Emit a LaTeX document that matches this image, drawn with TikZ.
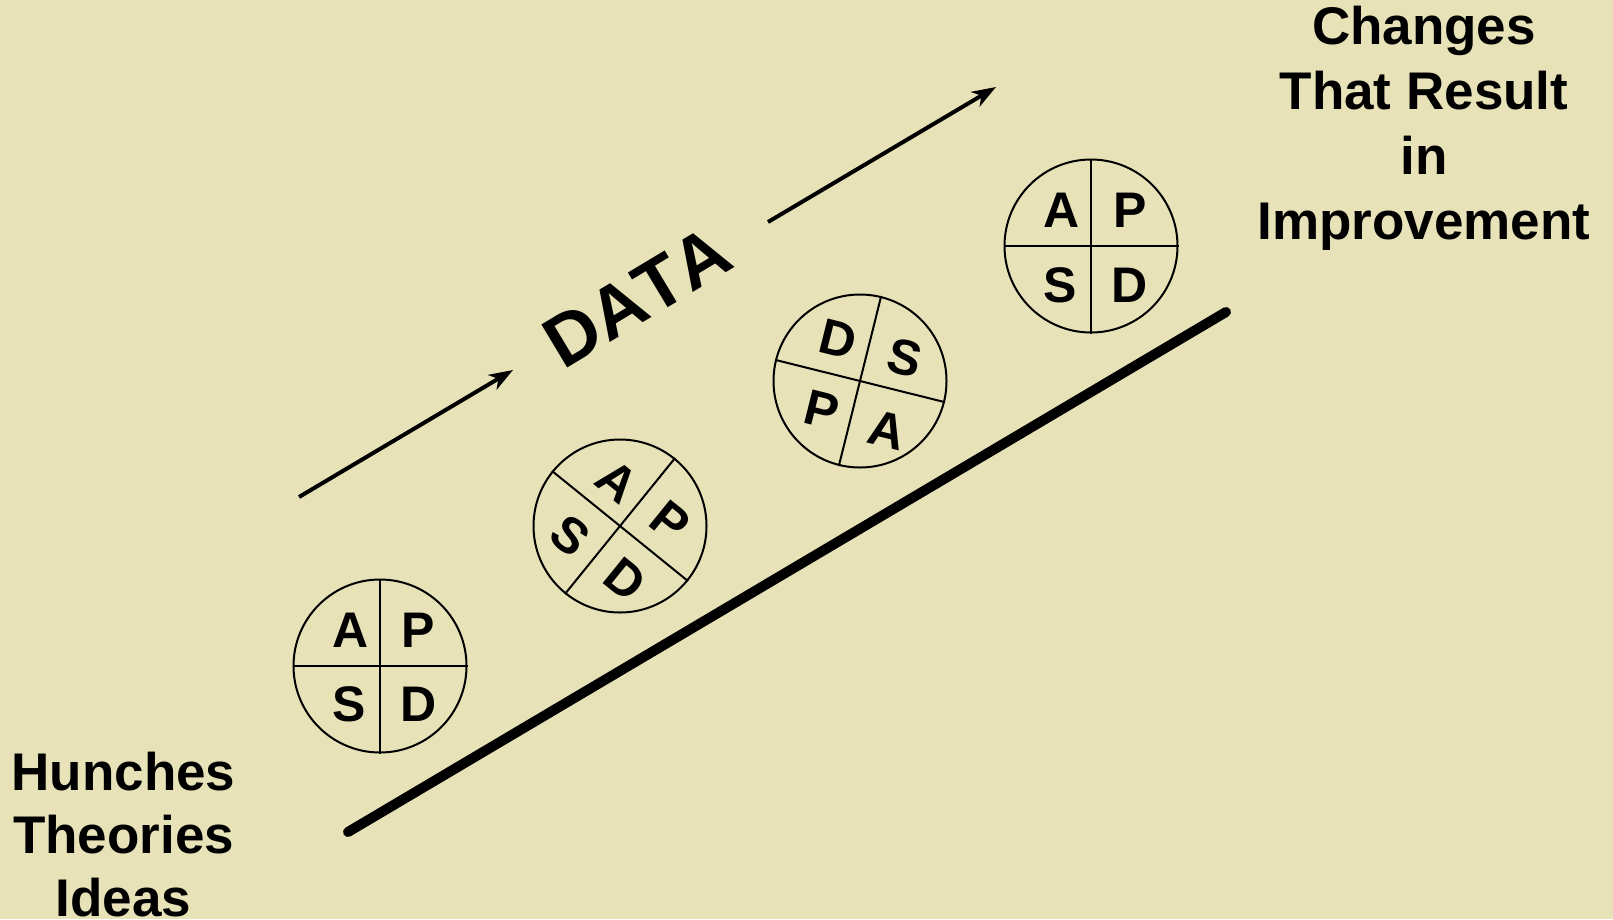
\documentclass[tikz,border=0pt]{standalone}
\usepackage{fontspec}
\setmainfont{Liberation Sans}
\usetikzlibrary{arrows.meta}
\definecolor{paper}{RGB}{232,226,184}
\begin{document}
\begin{tikzpicture}[x=1pt,y=-1pt,
  wheel/.style={circle,draw,line width=2pt,minimum size=173pt,inner sep=0pt},
  quarter/.style={line width=2pt},
  letter/.style={font=\fontsize{50}{50}\selectfont\bfseries,inner sep=0pt},
  flow/.style={line width=4pt,-{Stealth[length=24pt,width=17pt,inset=7pt]}},
  ramp/.style={line width=10pt,line cap=round},
  caption/.style={font=\fontsize{53}{65}\selectfont\bfseries,align=center,anchor=base,inner sep=0pt}]
\fill[paper] (0,0) rectangle (1613,919);
\useasboundingbox (0,0) rectangle (1613,919);

% first wheel, upright
\node[wheel] (w1) at (380,666) {};
\draw[quarter] (w1.north) -- (w1.south);
\draw[quarter] (w1.west) -- (w1.east);
\node[letter] (w1a) at (351,630) {A};
\node[letter] (w1p) at (418,630) {P};
\node[letter] (w1s) at (349,704) {S};
\node[letter] (w1d) at (419,704) {D};

% second wheel, turned clockwise
\node[wheel] (w2) at (620,526) {};
\draw[quarter] (w2.141) -- (w2.-39);
\draw[quarter] (w2.51) -- (w2.231);
\node[letter,rotate=-39] (w2a) at (617,481) {A};
\node[letter,rotate=-39] (w2p) at (670,522) {P};
\node[letter,rotate=-39] (w2s) at (570,536) {S};
\node[letter,rotate=-39] (w2d) at (625,579) {D};

% third wheel, turned half round
\node[wheel] (w3) at (860,381) {};
\draw[quarter] (w3.166) -- (w3.-14);
\draw[quarter] (w3.76) -- (w3.256);
\node[letter,rotate=-14] (w3d) at (838,339) {D};
\node[letter,rotate=-14] (w3s) at (905,358) {S};
\node[letter,rotate=-14] (w3p) at (822,410) {P};
\node[letter,rotate=-14] (w3a) at (887,430) {A};

% fourth wheel, upright again
\node[wheel] (w4) at (1091,246) {};
\draw[quarter] (w4.north) -- (w4.south);
\draw[quarter] (w4.west) -- (w4.east);
\node[letter] (w4a) at (1062,210) {A};
\node[letter] (w4p) at (1130,210) {P};
\node[letter] (w4s) at (1060,285) {S};
\node[letter] (w4d) at (1130,285) {D};

% data arrows and label
\coordinate (f1s) at (299,497);
\coordinate (f1e) at (513,370);
\coordinate (f2s) at (768,222);
\coordinate (f2e) at (996,87);
\draw[flow] (f1s) -- (f1e);
\draw[flow] (f2s) -- (f2e);
\node[font=\fontsize{73}{73}\selectfont\bfseries\addfontfeatures{Kerning=Off},inner sep=0pt,rotate=31] (data) at (637,297) {DATA};

% rising ramp
\coordinate (r1) at (348,832);
\coordinate (r2) at (1226,312);
\draw[ramp] (r1) -- (r2);

% captions
\node[caption] (start) at (123.5,916) {Hunches\\[-2pt]Theories\\[-2pt]Ideas};
\node[caption] (goal) at (1424,239) {Changes\\That Result\\in\\Improvement};
\end{tikzpicture}
\end{document}
